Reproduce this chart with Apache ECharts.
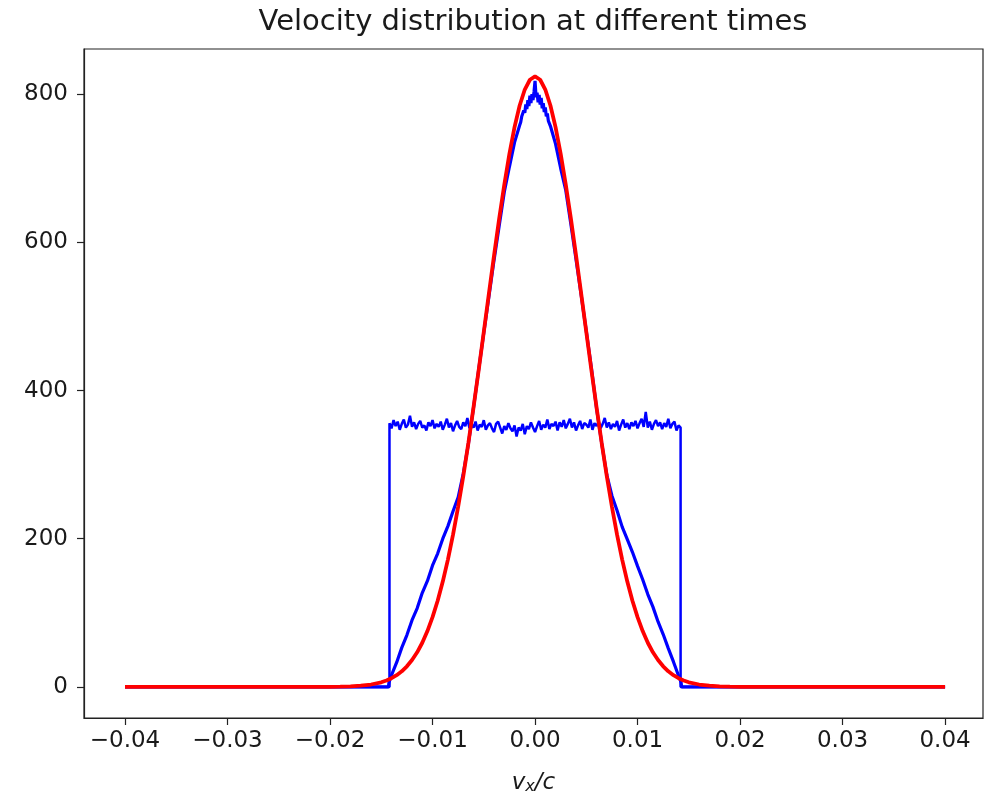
<!DOCTYPE html>
<html>
<head>
<meta charset="utf-8">
<script src="https://cdn.jsdelivr.net/npm/echarts@6/dist/echarts.min.js"></script>
<style>html,body{margin:0;padding:0;background:#fff}#c{width:984px;height:796px}</style>
</head>
<body>
<div id="c"></div>
<script>
// ---- data ----
const xTicks = [-0.04, -0.03, -0.02, -0.01, 0.00, 0.01, 0.02, 0.03, 0.04];
const yTicks = [0, 200, 400, 600, 800];

// initial (uniform) distribution: bins from -0.0142 to 0.0142, step 0.0002
const uniformStart = -0.0142, uniformStep = 0.0002;
const uniformY = [
 356,349,360,352,358,347,355,361,350,354,366,351,
 357,348,355,359,350,353,346,357,352,360,349,355,
 351,358,347,354,362,350,356,345,353,359,351,348,
 357,352,363,349,355,350,358,346,354,351,360,347,
 353,356,349,344,355,358,350,342,352,347,356,349,
 345,353,338,350,346,355,341,352,348,357,350,344,
 352,359,347,354,350,361,348,355,352,358,346,357,
 351,360,349,355,362,350,357,346,353,359,348,356,
 354,350,361,347,356,352,358,349,355,363,350,357,
 348,355,351,359,346,354,361,350,356,348,357,352,
 359,349,356,362,351,371,350,358,347,355,360,352,
 357,348,356,351,362,349,355,358,346,353,350
];

// evolved distribution (blue, peaked)
const evolvedX = [
 -0.04,-0.0143,
 -0.01425,-0.0140,-0.0135,-0.0130,-0.0125,-0.0120,-0.0115,-0.0110,-0.0105,-0.0100,
 -0.0095,-0.0090,-0.0085,-0.0080,-0.0075,-0.0070,-0.0065,-0.0060,-0.0055,-0.0050,
 -0.0045,-0.0040,-0.0035,-0.0030,-0.0025,-0.0020,-0.0015,
 -0.0014,-0.0013,-0.0012,-0.0011,-0.0010,-0.0009,-0.0008,-0.0007,-0.0006,-0.0005,
 -0.0004,-0.0003,-0.0002,-0.0001,0.0000,0.0001,0.0002,0.0003,0.0004,0.0005,
 0.0006,0.0007,0.0008,0.0009,0.0010,0.0011,0.0012,0.0013,0.0014,
 0.0015,0.0020,0.0025,0.0030,0.0035,0.0040,0.0045,0.0050,0.0055,0.0060,
 0.0065,0.0070,0.0075,0.0080,0.0085,0.0090,0.0095,0.0100,0.0105,0.0110,
 0.0115,0.0120,0.0125,0.0130,0.0135,0.0140,0.01425,
 0.0143,0.04
];
const evolvedY = [
 0,0,
 6,16,33,53,70,90,106,127,143,164,
 180,200,217,237,256,288,328,377,428,478,
 527,576,622,668,702,735,758,
 762,770,768,778,775,786,780,792,784,798,
 788,800,792,803,818,796,802,789,799,786,
 795,781,788,776,782,770,774,764,766,
 757,733,700,670,624,577,529,480,430,376,
 329,286,258,238,216,199,182,163,145,125,
 108,88,71,52,34,15,6,
 0,0
];

// Maxwellian fit (red)
const fitX = [
 -0.04,-0.020,-0.019,-0.018,-0.017,-0.016,
 -0.0150,-0.0145,-0.0140,-0.0135,-0.0130,-0.0125,-0.0120,-0.0115,-0.0110,-0.0105,
 -0.0100,-0.0095,-0.0090,-0.0085,-0.0080,-0.0075,-0.0070,-0.0065,-0.0060,-0.0055,
 -0.0050,-0.0045,-0.0040,-0.0035,-0.0030,-0.0025,-0.0020,-0.0015,-0.0010,-0.0005,
 0.0000,
 0.0005,0.0010,0.0015,0.0020,0.0025,0.0030,0.0035,0.0040,0.0045,0.0050,
 0.0055,0.0060,0.0065,0.0070,0.0075,0.0080,0.0085,0.0090,0.0095,0.0100,
 0.0105,0.0110,0.0115,0.0120,0.0125,0.0130,0.0135,0.0140,0.0145,0.0150,
 0.016,0.017,0.018,0.019,0.020,0.04
];
const fitY = [
 0,0.1,0.3,0.7,1.6,3.2,
 6.2,8.6,11.7,15.8,21.0,27.8,36.2,46.7,59.6,75.3,
 94.1,116.2,142.1,171.8,205.5,243.1,284.5,329.4,377.3,427.4,
 479.0,531.0,582.3,631.7,677.8,719.5,755.5,784.7,806.3,819.5,
 824,
 819.5,806.3,784.7,755.5,719.5,677.8,631.7,582.3,531.0,479.0,
 427.4,377.3,329.4,284.5,243.1,205.5,171.8,142.1,116.2,94.1,
 75.3,59.6,46.7,36.2,27.8,21.0,15.8,11.7,8.6,6.2,
 3.2,1.6,0.7,0.3,0.1,0
];

// ---- build series data ----
const uniformData = [[-0.04, 0], [uniformStart, 0]];
uniformY.forEach((v, i) => uniformData.push([+(uniformStart + i * uniformStep).toFixed(5), v]));
const uniformEnd = +(uniformStart + (uniformY.length - 1) * uniformStep).toFixed(5);
uniformData.push([uniformEnd, 0], [0.04, 0]);

const evolvedData = evolvedX.map((x, i) => [x, evolvedY[i]]);
const fitData = fitX.map((x, i) => [x, fitY[i]]);

const fmtX = v => {
  const s = Math.abs(v).toFixed(2);
  return (v < -1e-9 ? '\u2212' : '') + s;
};

const chart = echarts.init(document.getElementById('c'), null, {renderer: 'canvas'});
const FONT = 'DejaVu Sans';
chart.setOption({
  animation: false,
  backgroundColor: '#fff',
  title: {
    text: 'Velocity distribution at different times',
    left: 533, top: 8, padding: 0, textAlign: 'center',
    textStyle: {fontFamily: FONT, fontSize: 29, fontWeight: 'normal', color: '#1a1a1a'}
  },
  grid: {
    left: 84, right: 1, top: 49, bottom: 78,
    show: true, borderColor: '#222', borderWidth: 1.2,
    outerBoundsMode: 'none', containLabel: false
  },
  xAxis: {
    type: 'value', min: -0.044, max: 0.0437,
    name: '{v|v}{s|x}{c|/c}',
    nameLocation: 'middle', nameGap: 50,
    nameTextStyle: {
      fontFamily: FONT, color: '#1a1a1a',
      rich: {
        v: {fontFamily: FONT, fontSize: 23, fontStyle: 'italic', color: '#1a1a1a', verticalAlign: 'bottom', lineHeight: 27},
        s: {fontFamily: FONT, fontSize: 16, fontStyle: 'italic', color: '#1a1a1a', verticalAlign: 'bottom', lineHeight: 22},
        c: {fontFamily: FONT, fontSize: 23, fontStyle: 'italic', color: '#1a1a1a', verticalAlign: 'bottom', lineHeight: 27}
      }
    },
    axisLine: {show: true, onZero: false, lineStyle: {color: '#222', width: 1.2}},
    axisTick: {show: true, inside: false, length: 7, customValues: xTicks, lineStyle: {color: '#222', width: 1.2}},
    axisLabel: {customValues: xTicks, formatter: fmtX, margin: 12, fontFamily: FONT, fontSize: 23, color: '#1a1a1a'},
    splitLine: {show: false}
  },
  yAxis: {
    type: 'value', min: -42, max: 861,
    axisLine: {show: true, onZero: false, lineStyle: {color: '#222', width: 1.2}},
    axisTick: {show: true, inside: false, length: 7, customValues: yTicks, lineStyle: {color: '#222', width: 1.2}},
    axisLabel: {customValues: yTicks, margin: 16, fontFamily: FONT, fontSize: 23, color: '#1a1a1a'},
    splitLine: {show: false}
  },
  series: [
    {type: 'line', data: uniformData, showSymbol: false, symbol: 'none', lineStyle: {color: '#0000ff', width: 2.5}, z: 2},
    {type: 'line', data: evolvedData, showSymbol: false, symbol: 'none', lineStyle: {color: '#0000ff', width: 3.2}, z: 3},
    {type: 'line', data: fitData, showSymbol: false, symbol: 'none', lineStyle: {color: '#ff0000', width: 3.8}, z: 4}
  ]
});
</script>
</body>
</html>
